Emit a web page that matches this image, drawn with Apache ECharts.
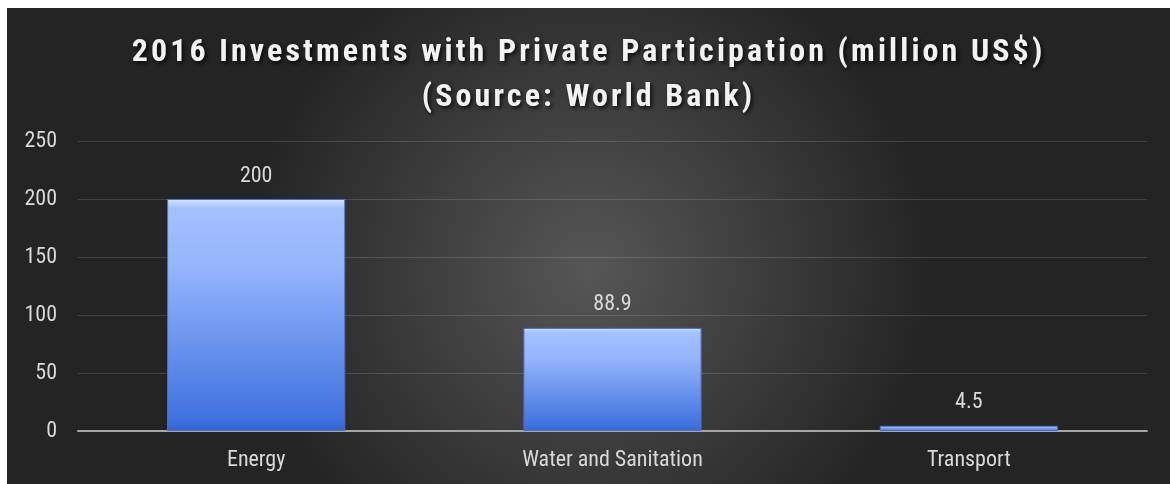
<!DOCTYPE html>
<html>
<head>
<meta charset="utf-8">
<script src="https://cdn.jsdelivr.net/npm/echarts@6/dist/echarts.min.js"></script>
<style>
  html, body { margin: 0; padding: 0; background: #ffffff; }
  #chart { position: absolute; left: 7px; top: 8px; width: 1163px; height: 476px; }
</style>
</head>
<body>
<div id="chart"></div>
<script>
const titleText = '2016 Investments with Private Participation (million US$)\n(Source: World Bank)';
const categories = ['Energy', 'Water and Sanitation', 'Transport'];
const values = [200, 88.9, 4.5];
const yTicks = { min: 0, max: 250, interval: 50 };

const NARROW = '"Roboto Condensed", "Liberation Sans", Arial, sans-serif';
const TITLE_SIZE = 32;

// Letter-spaced title (canvas letterSpacing applied only to the bold title font)
(function () {
  const proto = CanvasRenderingContext2D.prototype;
  const origFill = proto.fillText;
  const origStroke = proto.strokeText;
  function wrap(orig) {
    return function (t, x, y, m) {
      const f = this.font || '';
      if ('letterSpacing' in this && f.indexOf('bold') >= 0 && f.indexOf(TITLE_SIZE + 'px') >= 0) {
        const prev = this.letterSpacing;
        this.letterSpacing = '3.1px';
        const r = m === undefined ? orig.call(this, t, x, y) : orig.call(this, t, x, y, m);
        this.letterSpacing = prev;
        return r;
      }
      return m === undefined ? orig.call(this, t, x, y) : orig.call(this, t, x, y, m);
    };
  }
  proto.fillText = wrap(origFill);
  proto.strokeText = wrap(origStroke);
})();

const chart = echarts.init(document.getElementById('chart'), null, { renderer: 'canvas' });
chart.setOption({
  backgroundColor: {
    type: 'radial', x: 0.5, y: 0.55, r: 0.72,
    colorStops: [
      { offset: 0, color: '#565656' },
      { offset: 1, color: '#242424' }
    ]
  },
  animation: false,
  title: {
    text: titleText,
    left: 'center',
    top: 17,
    textStyle: {
      color: '#f2f2f2',
      fontFamily: NARROW,
      fontWeight: 'bold',
      fontSize: TITLE_SIZE,
      lineHeight: 45,
      textShadowColor: 'rgba(0,0,0,0.8)',
      textShadowBlur: 4,
      textShadowOffsetX: 2,
      textShadowOffsetY: 2
    }
  },
  grid: { left: 71, right: 23, top: 133, bottom: 53, containLabel: false },
  xAxis: {
    type: 'category',
    data: categories,
    axisLine: { lineStyle: { color: '#a6a6a6', width: 2 } },
    axisTick: { show: false },
    axisLabel: { color: '#d9d9d9', fontFamily: NARROW, fontSize: 22, margin: 18 }
  },
  yAxis: {
    type: 'value',
    min: yTicks.min, max: yTicks.max, interval: yTicks.interval,
    axisLine: { show: false },
    axisTick: { show: false },
    splitLine: { lineStyle: { color: 'rgba(255,255,255,0.14)', width: 1 } },
    axisLabel: { color: '#d9d9d9', fontFamily: NARROW, fontSize: 22, margin: 21 }
  },
  series: [{
    type: 'bar',
    data: values,
    barWidth: '50%',
    itemStyle: {
      color: {
        type: 'linear', x: 0, y: 0, x2: 0, y2: 1,
        colorStops: [
          { offset: 0, color: '#d6e6ff' },
          { offset: 0.04, color: '#a4c1ff' },
          { offset: 0.3, color: '#94b4fc' },
          { offset: 0.95, color: '#3f72df' },
          { offset: 1, color: '#3566d0' }
        ]
      },
      borderColor: '#4a70c0',
      borderWidth: 1
    },
    label: {
      show: true,
      position: 'top',
      distance: 12,
      color: '#d9d9d9',
      fontFamily: NARROW,
      fontSize: 22
    }
  }]
});
</script>
</body>
</html>
